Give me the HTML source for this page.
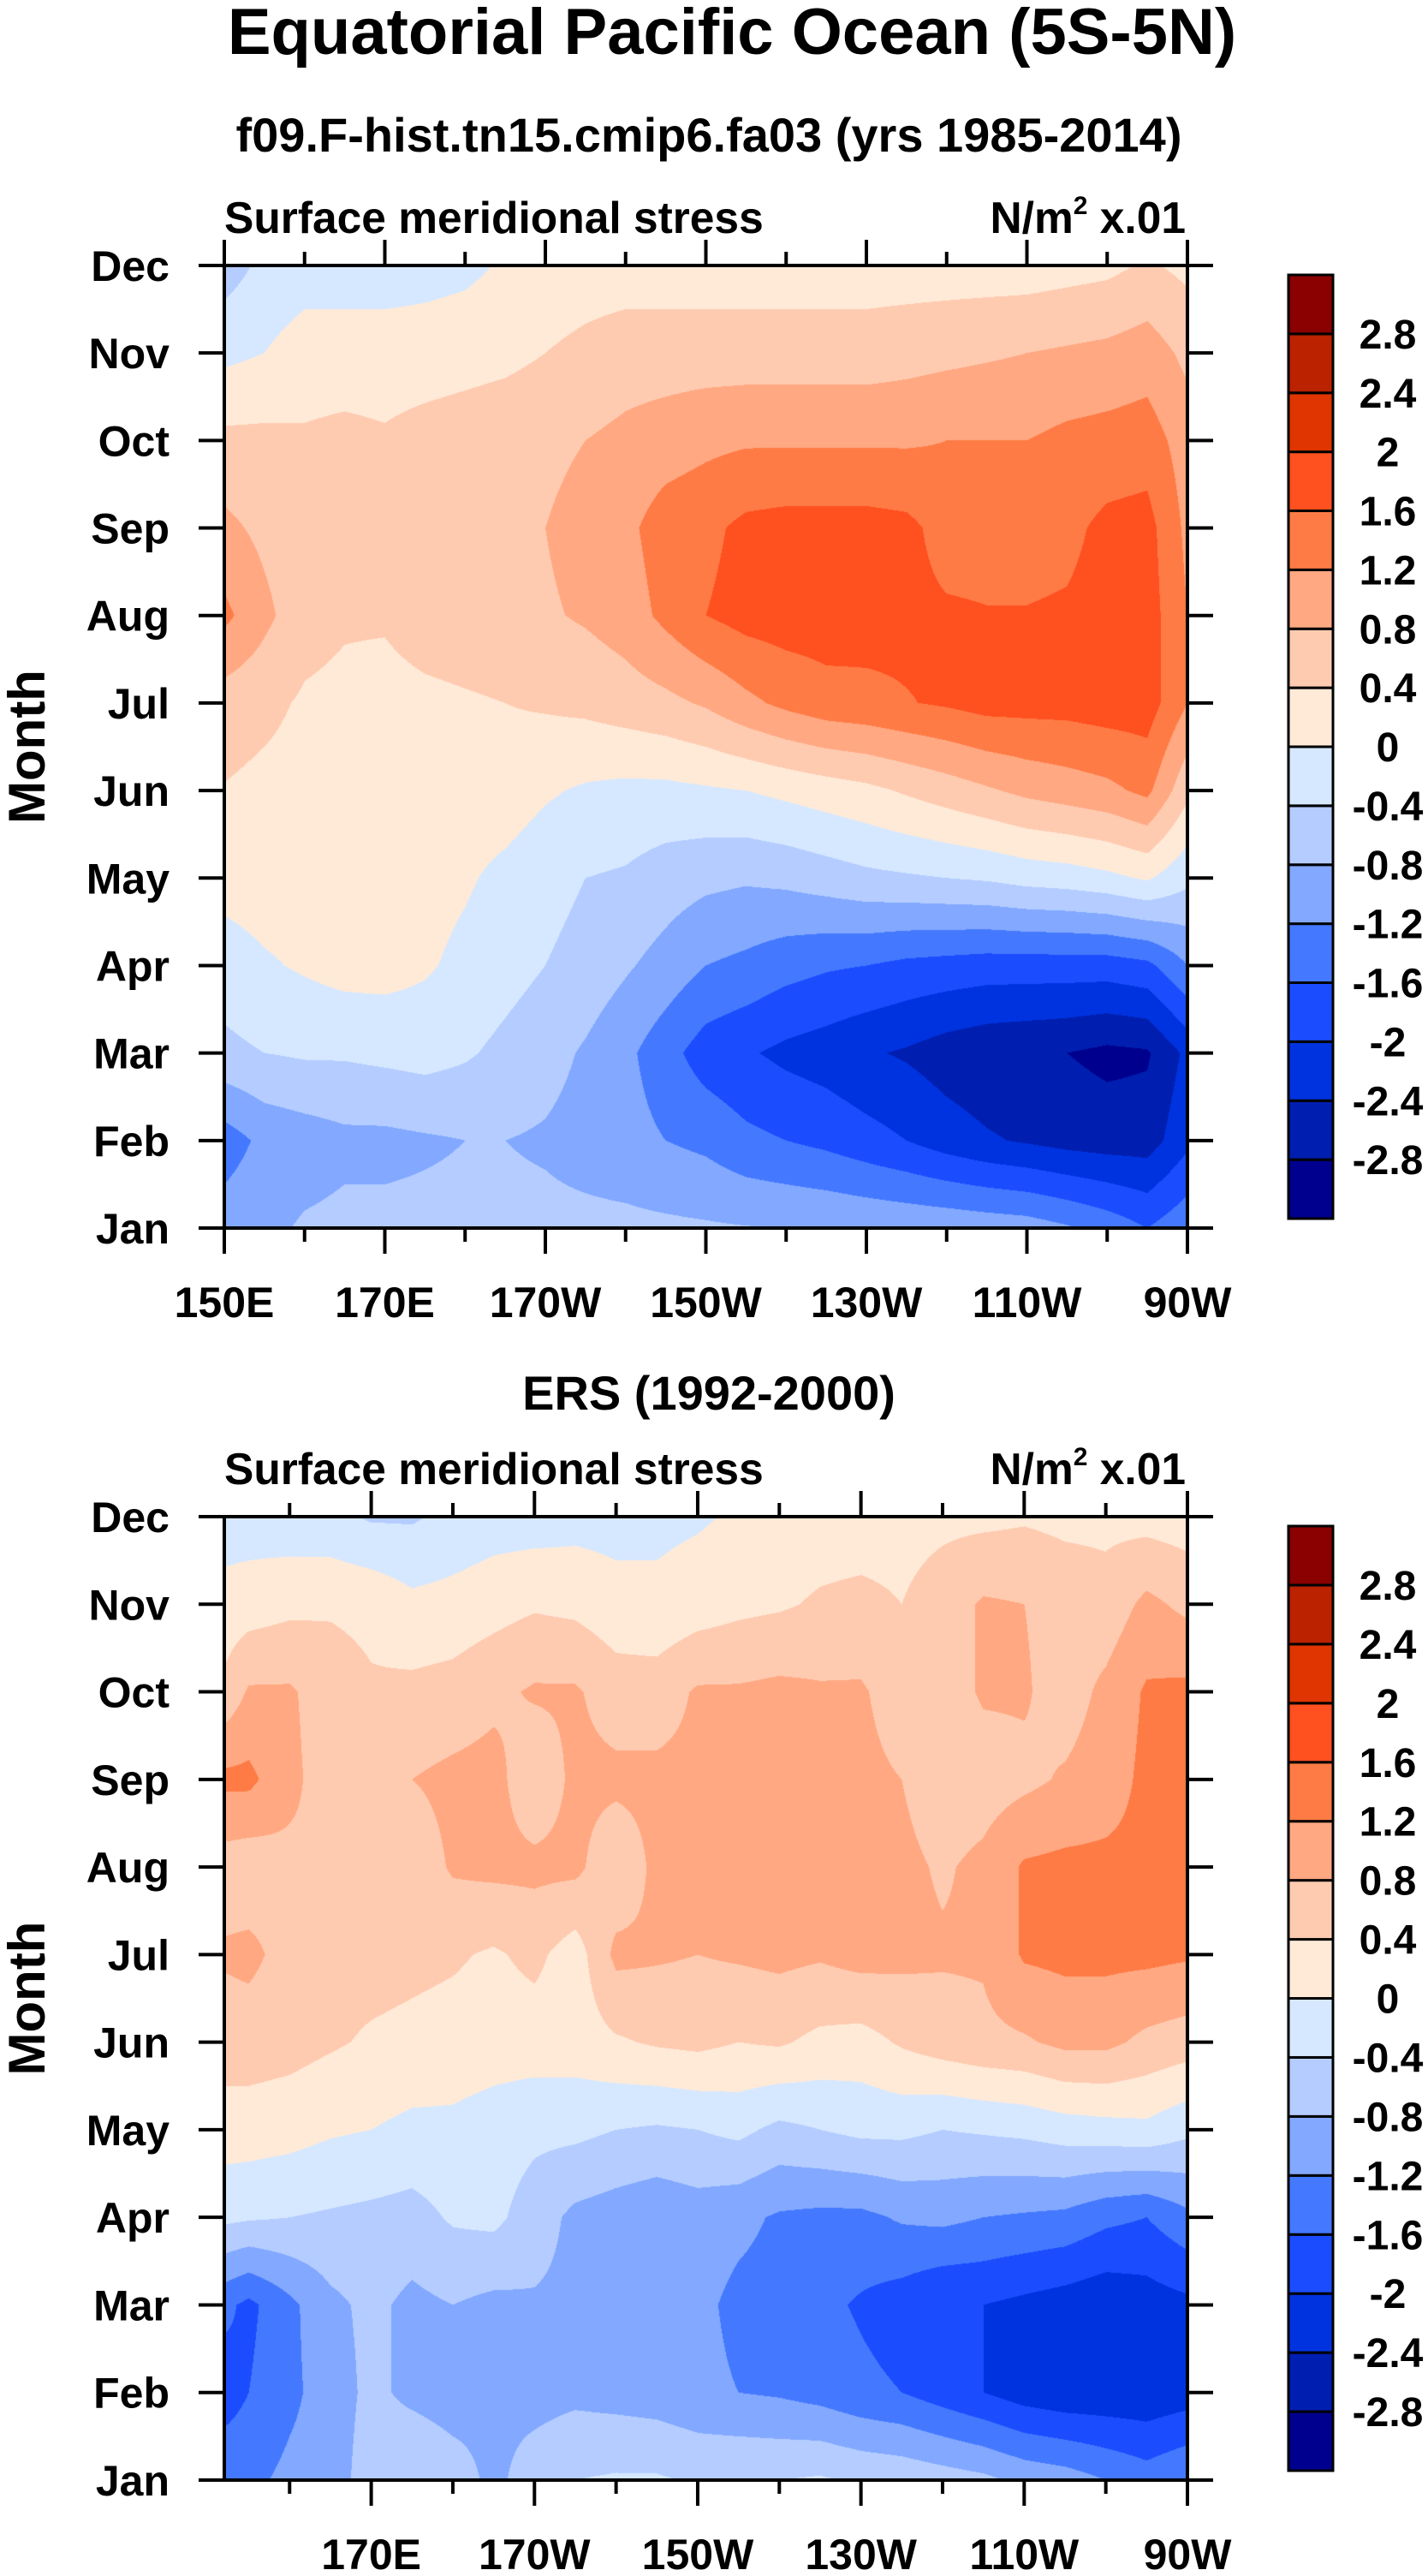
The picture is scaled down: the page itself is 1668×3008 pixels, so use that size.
<!DOCTYPE html>
<html><head><meta charset="utf-8">
<style>
html,body{margin:0;padding:0;background:#fff;}
#wrap{position:relative;width:1668px;height:3008px;overflow:hidden;}
canvas{position:absolute;}
svg{position:absolute;left:0;top:0;}
text{font-family:"Liberation Sans",sans-serif;font-weight:bold;fill:#000;}
</style></head>
<body>
<div id="wrap">
<canvas id="c1"></canvas>
<canvas id="c2"></canvas>
<svg id="svg" width="1668" height="3008"></svg>
</div>
<script>
// ---------- data ----------
const months = ["Jan","Feb","Mar","Apr","May","Jun","Jul","Aug","Sep","Oct","Nov","Dec"];
const levels = [-2.8,-2.4,-2,-1.6,-1.2,-0.8,-0.4,0,0.4,0.8,1.2,1.6,2,2.4,2.8];
const levelLabels = ["-2.8","-2.4","-2","-1.6","-1.2","-0.8","-0.4","0","0.4","0.8","1.2","1.6","2","2.4","2.8"];
const bandColors = ["#00008e","#001fb0","#0033e0","#1b4dff","#4479ff","#82a8ff","#b4ccff","#d6e8ff","#ffead8","#ffcbb0","#ffa882","#ff7b45","#ff5020","#e03500","#ba2200","#8b0000"];
const lonTicks = [150,170,190,210,230,250,270];
const lonTickLabels = ["150E","170E","170W","150W","130W","110W","90W"];

const lonsModel = [150,155,160,165,170,175,180,185,190,195,200,205,210,215,220,225,230,235,240,245,250,255,260,265,270];
const modelJan = [-1.0,-0.9,-0.75,-0.7,-0.7,-0.7,-0.7,-0.7,-0.7,-0.7,-0.7,-0.72,-0.75,-0.78,-0.8,-0.82,-0.85,-0.88,-0.9,-0.95,-1.0,-1.15,-1.35,-1.6,-1.3];
const modelFeb = [-1.4,-1.1,-1.0,-0.9,-0.9,-0.85,-0.8,-0.8,-0.85,-0.95,-1.05,-1.2,-1.3,-1.5,-1.6,-1.7,-1.85,-2.0,-2.2,-2.35,-2.45,-2.55,-2.6,-2.6,-2.1];
const modelMar = [-0.5,-0.4,-0.35,-0.35,-0.3,-0.25,-0.35,-0.5,-0.65,-0.85,-1.1,-1.45,-1.8,-1.95,-2.1,-2.2,-2.35,-2.45,-2.6,-2.7,-2.75,-2.8,-2.9,-2.85,-2.3];
const modelApr = [-0.2,-0.05,0.05,0.15,0.15,0.05,-0.1,-0.25,-0.4,-0.55,-0.75,-0.95,-1.2,-1.3,-1.45,-1.55,-1.6,-1.7,-1.75,-1.8,-1.8,-1.8,-1.8,-1.7,-1.2];
const modelMay = [0.15,0.2,0.2,0.2,0.2,0.15,0.05,-0.1,-0.25,-0.4,-0.45,-0.6,-0.7,-0.75,-0.7,-0.6,-0.5,-0.45,-0.4,-0.35,-0.25,-0.2,-0.1,0.05,-0.3];
const modelJun = [0.38,0.3,0.25,0.2,0.2,0.2,0.2,0.2,0.05,-0.05,-0.1,-0.1,-0.05,0.0,0.1,0.2,0.3,0.45,0.6,0.75,0.9,1.0,1.1,1.3,0.5];
const modelJul = [0.6,0.5,0.35,0.3,0.25,0.3,0.35,0.4,0.45,0.5,0.6,0.7,0.85,1.1,1.3,1.45,1.5,1.58,1.65,1.75,1.75,1.75,1.8,1.8,1.2];
const modelAug = [1.3,0.9,0.55,0.45,0.45,0.6,0.65,0.7,0.75,0.85,1.0,1.3,1.6,1.75,1.8,1.8,1.75,1.7,1.65,1.62,1.62,1.65,1.75,1.8,1.2];
const modelSep = [0.9,0.7,0.55,0.55,0.6,0.65,0.7,0.75,0.8,0.95,1.1,1.4,1.5,1.7,1.75,1.75,1.75,1.7,1.45,1.45,1.45,1.5,1.7,1.75,1.1];
const modelOct = [0.5,0.5,0.45,0.5,0.45,0.55,0.6,0.65,0.7,0.8,0.9,1.0,1.1,1.15,1.15,1.15,1.15,1.15,1.2,1.2,1.2,1.3,1.35,1.4,1.0];
const modelNov = [-0.1,0.0,0.2,0.2,0.2,0.2,0.25,0.3,0.4,0.5,0.6,0.6,0.6,0.6,0.6,0.6,0.6,0.65,0.7,0.75,0.8,0.85,0.9,1.0,0.7];
const modelDec = [-0.6,-0.3,-0.2,-0.2,-0.2,-0.15,-0.1,0.05,0.15,0.2,0.2,0.2,0.2,0.2,0.2,0.2,0.2,0.2,0.2,0.2,0.2,0.25,0.3,0.45,0.3];

const lonsErs = [152,155,160,165,170,175,180,185,190,195,200,205,210,215,220,225,230,235,240,245,250,255,260,265,270];
const ersJan = [-1.3,-1.3,-1.1,-1.0,-0.6,-0.4,-0.6,-0.9,-0.6,-0.4,-0.35,-0.35,-0.45,-0.4,-0.4,-0.35,-0.45,-0.5,-0.6,-0.7,-0.9,-1.0,-1.2,-1.4,-1.2];
const ersFeb = [-1.8,-1.6,-1.3,-1.0,-0.7,-0.9,-1.0,-0.9,-0.95,-0.9,-0.95,-1.0,-1.1,-1.2,-1.25,-1.35,-1.5,-1.6,-1.8,-2.0,-2.2,-2.3,-2.3,-2.3,-2.2];
const ersMar = [-1.5,-1.7,-1.3,-0.9,-0.7,-0.9,-0.8,-0.9,-0.85,-0.9,-0.85,-0.9,-1.1,-1.3,-1.35,-1.5,-1.65,-1.8,-2.0,-2.0,-2.1,-2.2,-2.3,-2.2,-2.1];
const ersApr = [-0.3,-0.35,-0.4,-0.45,-0.5,-0.55,-0.35,-0.3,-0.6,-0.9,-1.0,-1.1,-1.0,-1.1,-1.25,-1.3,-1.3,-1.15,-1.1,-1.2,-1.25,-1.3,-1.5,-1.6,-1.3];
const ersMay = [0.2,0.2,0.15,0.05,0.0,-0.1,-0.1,-0.2,-0.3,-0.3,-0.4,-0.45,-0.4,-0.3,-0.5,-0.4,-0.3,-0.3,-0.4,-0.35,-0.3,-0.2,-0.15,-0.1,-0.3];
const ersJun = [0.6,0.6,0.55,0.45,0.35,0.3,0.25,0.2,0.2,0.2,0.35,0.45,0.5,0.4,0.45,0.3,0.25,0.45,0.6,0.7,0.75,0.9,0.9,0.7,0.6];
const ersJul = [0.85,0.9,0.65,0.55,0.55,0.5,0.45,0.35,0.5,0.2,0.9,0.85,0.8,0.85,0.9,0.85,0.95,0.9,0.85,0.85,1.25,1.3,1.3,1.3,1.25];
const ersAug = [0.6,0.55,0.7,0.8,0.6,0.55,0.85,0.9,0.9,0.9,0.5,0.9,0.9,0.9,0.9,0.95,0.95,0.9,0.75,0.9,1.25,1.3,1.3,1.3,1.3];
const ersSep = [1.3,1.3,0.9,0.6,0.6,0.8,0.9,0.95,0.5,0.9,0.9,0.9,0.9,0.9,0.9,0.9,0.9,0.8,0.55,0.6,0.7,0.85,1.0,1.3,1.3];
const ersOct = [0.5,0.85,0.85,0.6,0.45,0.5,0.55,0.7,0.85,0.85,0.6,0.6,0.85,0.85,0.9,0.85,0.85,0.6,0.6,0.85,0.85,0.6,0.9,1.25,1.3];
const ersNov = [0.15,0.2,0.3,0.35,0.3,0.1,0.15,0.25,0.35,0.3,0.15,0.1,0.2,0.3,0.35,0.45,0.5,0.4,0.6,0.85,0.8,0.65,0.55,0.9,0.7];
const ersDec = [-0.2,-0.2,-0.25,-0.3,-0.45,-0.45,-0.3,-0.2,-0.2,-0.15,-0.15,-0.1,-0.05,0.05,0.15,0.2,0.2,0.25,0.3,0.3,0.35,0.3,0.3,0.25,0.2];

const modelGrid = [modelJan,modelFeb,modelMar,modelApr,modelMay,modelJun,modelJul,modelAug,modelSep,modelOct,modelNov,modelDec];
const ersGrid = [ersJan,ersFeb,ersMar,ersApr,ersMay,ersJun,ersJul,ersAug,ersSep,ersOct,ersNov,ersDec];

// ---------- layout ----------
const NS = "http://www.w3.org/2000/svg";
const svg = document.getElementById('svg');
function el(tag, attrs, parent){ const e=document.createElementNS(NS,tag); for(const k in attrs) e.setAttribute(k,attrs[k]); (parent||svg).appendChild(e); return e; }
function txt(s, x, y, size, anchor, parent){ const t=el('text',{x:x,y:y,'font-size':size,'text-anchor':anchor||'start'},parent); t.textContent=s; return t; }

const panels = [
  {top:310, bottom:1434, left:262, right:1387, lon0:150, lon1:270, lons:lonsModel, grid:modelGrid, canvas:'c1', name:'model'},
  {top:1771, bottom:2896, left:262, right:1387, lon0:152, lon1:270, lons:lonsErs, grid:ersGrid, canvas:'c2', name:'ers'}
];

function bandIndex(v){ let i=0; while(i<levels.length && v>=levels[i]) i++; return i; }
function hex(c){ return [parseInt(c.substr(1,2),16),parseInt(c.substr(3,2),16),parseInt(c.substr(5,2),16)]; }
const rgb = bandColors.map(hex);

function drawField(p){
  const W=p.right-p.left, H=p.bottom-p.top;
  const cv=document.getElementById(p.canvas);
  cv.width=W; cv.height=H; cv.style.left=p.left+'px'; cv.style.top=p.top+'px';
  const ctx=cv.getContext('2d'); const img=ctx.createImageData(W,H);
  const xScale = x => p.lon0 + (x+0.5)/W*(p.lon1-p.lon0);
  const yScale = y => 11 - (y+0.5)/H*11;
  const lons=p.lons, g=p.grid;
  for(let x=0;x<W;x++){
    const lon=xScale(x);
    let j=0; while(j<lons.length-2 && lon>lons[j+1]) j++;
    let fx=(lon-lons[j])/(lons[j+1]-lons[j]); fx=Math.max(0,Math.min(1,fx));
    for(let y=0;y<H;y++){
      const m=yScale(y);
      let i=Math.min(10,Math.floor(m)); const fy=m-i;
      const v=(g[i][j]*(1-fx)+g[i][j+1]*fx)*(1-fy)+(g[i+1][j]*(1-fx)+g[i+1][j+1]*fx)*fy;
      const c=rgb[bandIndex(v)]; const k=(y*W+x)*4;
      img.data[k]=c[0]; img.data[k+1]=c[1]; img.data[k+2]=c[2]; img.data[k+3]=255;
    }
  }
  ctx.putImageData(img,0,0);
}

function drawAxes(p, idx){
  const g=el('g',{});
  
  
  const xPix = lon => p.left + (lon-p.lon0)/(p.lon1-p.lon0)*(p.right-p.left);
  const yPix = m => p.bottom - m/11*(p.bottom-p.top);
  const fr=el('rect',{x:p.left,y:p.top,width:p.right-p.left,height:p.bottom-p.top,fill:'none',stroke:'#000','stroke-width':4},g);
  
  
  months.forEach((mn,i)=>{
    const y=yPix(i);
    el('line',{x1:p.left-30,y1:y,x2:p.left,y2:y,stroke:'#000','stroke-width':4},g);
    el('line',{x1:p.right,y1:y,x2:p.right+30,y2:y,stroke:'#000','stroke-width':4},g);
    const t=txt(mn,198,y+18,50,'end',g);
    
    
  });
  for(let lon=Math.ceil(p.lon0/10)*10; lon<=p.lon1; lon+=10){
    const x=xPix(lon);
    const major = (lon-150)%20===0;
    const len = major?30:16;
    el('line',{x1:x,y1:p.top-len,x2:x,y2:p.top,stroke:'#000','stroke-width':4},g);
    el('line',{x1:x,y1:p.bottom,x2:x,y2:p.bottom+len,stroke:'#000','stroke-width':4},g);
  }
  lonTicks.forEach((lon,i)=>{
    if(lon<p.lon0) return;
    const t=txt(lonTickLabels[i],xPix(lon),p.bottom+104,50,'middle',g);
    
    
  });
  const l=txt('Surface meridional stress',p.left,p.top-38,51.5,'start',g);
  
  
  const r=el('text',{x:p.right-2,y:p.top-38,'font-size':51.5,'text-anchor':'end'},g);
  
  
  r.innerHTML='N/m<tspan font-size="30" dy="-22">2</tspan><tspan dy="22"> x.01</tspan>';
  const mt=txt('Month',0,0,60,'middle',g);
  mt.setAttribute('transform','translate(52,'+((p.top+p.bottom)/2)+') rotate(-90)');
  
  
  const cb=el('g',{},g);
  
  
  const cTop=p.top+11, cBot=p.bottom-11, bh=(cBot-cTop)/bandColors.length;
  for(let b=0;b<bandColors.length;b++){
    const y=cBot-(b+1)*bh;
    const r2=el('rect',{x:1505,y:y,width:52,height:bh,fill:bandColors[b],stroke:'#000','stroke-width':3},cb);
    
    
  }
  levels.forEach((lv,i)=>{
    const y=cBot-(i+1)*bh;
    const t=txt(levelLabels[i],1621,y+17,48,'middle',cb);
    
    
  });
}

panels.forEach((p,i)=>{ drawField(p); drawAxes(p,i); });

const t1=txt('Equatorial Pacific Ocean (5S-5N)',855,63,76,'middle');


const t2=txt('f09.F-hist.tn15.cmip6.fa03 (yrs 1985-2014)',828,177,56,'middle');


const t3=txt('ERS (1992-2000)',828,1646,56,'middle');


</script>
</body></html>
